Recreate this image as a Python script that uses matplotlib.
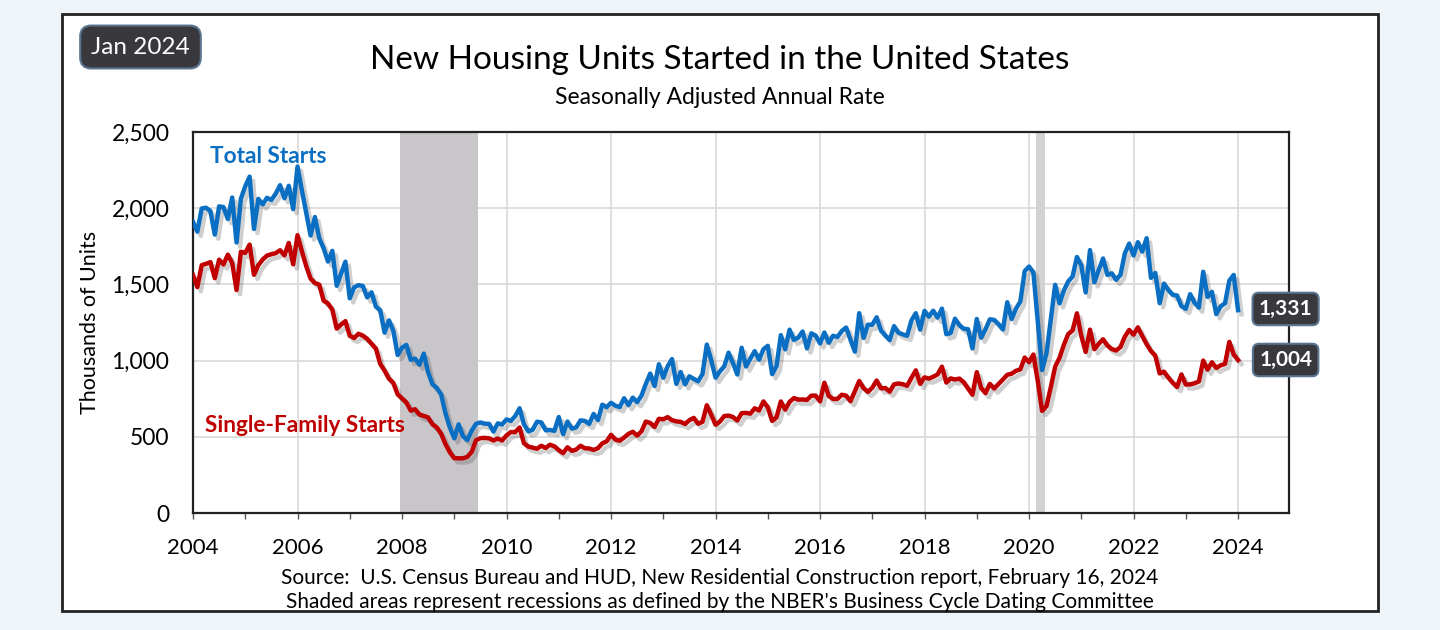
import matplotlib
matplotlib.use("Agg")
import matplotlib.pyplot as plt
import matplotlib.patheffects as pe
from matplotlib.patches import Rectangle
from matplotlib.ticker import FuncFormatter, MultipleLocator
import numpy as np

plt.rcParams['font.family'] = ['Lato', 'DejaVu Sans']

# monthly data, Jan 2004 .. Jan 2024 (thousands of units, SAAR)
total_starts = [
    1911, 1846, 1998, 2003, 1981, 1827, 2012, 2007, 1929, 2070, 1775, 2062,
    2144, 2207, 1864, 2061, 2025, 2068, 2054, 2095, 2151, 2065, 2147, 1994,
    2273, 2119, 1969, 1821, 1942, 1802, 1737, 1650, 1720, 1491, 1570, 1649,
    1409, 1480, 1495, 1490, 1415, 1448, 1354, 1330, 1183, 1264, 1197, 1037,
    1084, 1103, 1005, 1013, 973, 1046, 923, 844, 820, 777, 652, 560,
    490, 582, 505, 478, 540, 585, 594, 586, 585, 534, 588, 581,
    614, 604, 636, 687, 583, 536, 546, 599, 594, 543, 545, 539,
    630, 517, 600, 554, 561, 608, 604, 585, 650, 610, 711, 694,
    723, 704, 695, 753, 708, 757, 728, 770, 847, 915, 833, 976,
    888, 962, 1010, 847, 925, 844, 897, 880, 864, 911, 1105, 1003,
    888, 929, 962, 1052, 984, 909, 1084, 961, 1013, 1062, 1006, 1074,
    1097, 911, 963, 1167, 1074, 1203, 1136, 1151, 1191, 1080, 1179, 1164,
    1113, 1184, 1117, 1163, 1155, 1194, 1217, 1136, 1059, 1311, 1149, 1236,
    1235, 1284, 1197, 1165, 1135, 1226, 1183, 1172, 1163, 1264, 1311, 1203,
    1326, 1289, 1327, 1282, 1341, 1173, 1181, 1275, 1232, 1209, 1206, 1080,
    1273, 1150, 1205, 1271, 1267, 1239, 1204, 1383, 1273, 1340, 1388, 1587,
    1617, 1578, 1261, 938, 1046, 1273, 1497, 1376, 1460, 1519, 1552, 1680,
    1625, 1447, 1725, 1514, 1594, 1670, 1562, 1573, 1530, 1563, 1703, 1768,
    1690, 1777, 1716, 1803, 1543, 1575, 1377, 1505, 1463, 1432, 1427, 1357,
    1340, 1436, 1380, 1348, 1583, 1418, 1451, 1305, 1356, 1376, 1525, 1562,
    1331,
]

single_family = [
    1562, 1482, 1626, 1635, 1646, 1541, 1662, 1631, 1695, 1641, 1463, 1714,
    1707, 1761, 1563, 1626, 1663, 1689, 1698, 1705, 1724, 1691, 1772, 1632,
    1823, 1718, 1620, 1538, 1509, 1498, 1393, 1375, 1334, 1210, 1236, 1259,
    1163, 1148, 1176, 1164, 1143, 1111, 1079, 978, 934, 881, 854, 778,
    752, 726, 672, 681, 646, 637, 627, 582, 561, 519, 451, 398,
    360, 359, 359, 368, 401, 477, 491, 493, 490, 476, 488, 476,
    509, 531, 531, 561, 458, 436, 429, 422, 441, 427, 448, 437,
    413, 393, 431, 408, 416, 441, 425, 423, 414, 425, 457, 470,
    513, 482, 474, 495, 519, 533, 508, 536, 600, 591, 565, 618,
    615, 629, 609, 601, 598, 584, 609, 624, 586, 598, 707, 646,
    579, 600, 636, 639, 630, 607, 655, 657, 652, 687, 673, 732,
    694, 604, 627, 732, 679, 729, 754, 744, 745, 742, 770, 770,
    733, 855, 768, 748, 749, 776, 770, 734, 799, 866, 819, 795,
    822, 869, 818, 820, 796, 844, 850, 845, 835, 887, 936, 847,
    890, 882, 894, 909, 960, 856, 883, 876, 882, 858, 817, 776,
    924, 820, 787, 847, 817, 846, 876, 907, 914, 933, 942, 1020,
    990, 1040, 866, 670, 700, 826, 960, 1018, 1103, 1174, 1198, 1310,
    1163, 1057, 1203, 1075, 1110, 1140, 1099, 1076, 1066, 1089, 1157, 1201,
    1170, 1218, 1162, 1108, 1063, 1032, 916, 927, 888, 855, 827, 909,
    843, 844, 851, 863, 1000, 941, 989, 952, 969, 978, 1123, 1040,
    1004,
]

# fechas en años decimales, una por mes
fechas = 2004 + np.arange(len(total_starts)) / 12.0

# recesiones NBER (inicio, fin)
recesiones = [(2007.96, 2009.46), (2020.13, 2020.31)]
colores_recesion = ['#c9c6ca', '#d2d2d2']

azul = '#0a6fc2'
rojo = '#c00000'

fig = plt.figure(figsize=(14.4, 6.3), dpi=100)
fig.patch.set_facecolor('#eef4f7')

# panel blanco con marco oscuro
fig.patches.append(Rectangle((62 / 1440, 1 - 611 / 630), (1378 - 62) / 1440, (611 - 14) / 630,
                             transform=fig.transFigure, facecolor='white',
                             edgecolor='#222222', linewidth=2, zorder=-10))

ax = fig.add_axes([193 / 1440, 1 - 513 / 630, (1289 - 193) / 1440, (513 - 132) / 630])
ax.set_zorder(2)
ax.set_facecolor('white')

for (ini, fin), c in zip(recesiones, colores_recesion):
    ax.axvspan(ini, fin, color=c, zorder=1, lw=0)

sombra = [pe.SimpleLineShadow(offset=(2.5, -3), shadow_color='#555555', alpha=0.28), pe.Normal()]

ax.plot(fechas, total_starts, color=azul, linewidth=3.2, zorder=3, path_effects=sombra,
        solid_joinstyle='round')
ax.plot(fechas, single_family, color=rojo, linewidth=3.2, zorder=3, path_effects=sombra,
        solid_joinstyle='round')

ax.set_xlim(2004, 2024.975)
ax.set_ylim(0, 2500)

ax.xaxis.set_major_locator(MultipleLocator(2))
ax.xaxis.set_minor_locator(MultipleLocator(1))
ax.xaxis.set_major_formatter(FuncFormatter(lambda v, p: '%d' % v))
ax.yaxis.set_major_locator(MultipleLocator(500))
ax.yaxis.set_major_formatter(FuncFormatter(lambda v, p: '{:,.0f}'.format(v)))

ax.tick_params(axis='x', which='both', direction='out', length=4, width=1, color='#555555',
               labelsize=16, pad=14)
ax.tick_params(axis='y', length=0, labelsize=16.5, pad=17)

ax.grid(True, which='major', color='#d9d9d9', linewidth=1.2, zorder=0)
ax.set_axisbelow(True)

for s in ax.spines.values():
    s.set_color('#222222')
    s.set_linewidth(1.6)

ax.set_ylabel('Thousands of Units', fontsize=15.5, labelpad=8)

# etiquetas de las series
ax.text(2004.33, 2336, 'Total Starts', color=azul, fontsize=16.3, fontweight='bold',
        ha='left', va='center', zorder=5)
ax.text(2004.23, 577, 'Single-Family Starts', color=rojo, fontsize=16.3, fontweight='bold',
        ha='left', va='center', zorder=5)

# ultimos valores
caja = dict(boxstyle='round,pad=0.3', facecolor='#38383d', edgecolor='#5a7590', linewidth=1.5)
ax.text(2024.91, total_starts[-1] + 8, '{:,}'.format(total_starts[-1]), color='white',
        fontsize=15, fontweight='bold', ha='center', va='center', bbox=caja, clip_on=False, zorder=6)
ax.text(2024.91, single_family[-1], '{:,}'.format(single_family[-1]), color='white',
        fontsize=15, fontweight='bold', ha='center', va='center', bbox=caja, clip_on=False, zorder=6)

# titulos
fig.text(0.5, 1 - 60 / 630, 'New Housing Units Started in the United States', fontsize=24,
         ha='center', va='center')
fig.text(0.5, 1 - 97 / 630, 'Seasonally Adjusted Annual Rate', fontsize=16.5,
         ha='center', va='center')

fig.text(140.5 / 1440, 1 - 47 / 630, 'Jan 2024', fontsize=17.5, color='white', ha='center', va='center',
         bbox=dict(boxstyle='round,pad=0.45', facecolor='#38383d', edgecolor='#5a7590', linewidth=1.5))

fig.text(0.5, 1 - 578 / 630,
         'Source:  U.S. Census Bureau and HUD, New Residential Construction report, February 16, 2024',
         fontsize=15, ha='center', va='center')
fig.text(0.5, 1 - 602 / 630,
         "Shaded areas represent recessions as defined by the NBER's Business Cycle Dating Committee",
         fontsize=15, ha='center', va='center')

fig.savefig('out.png', dpi=100, facecolor=fig.get_facecolor())
